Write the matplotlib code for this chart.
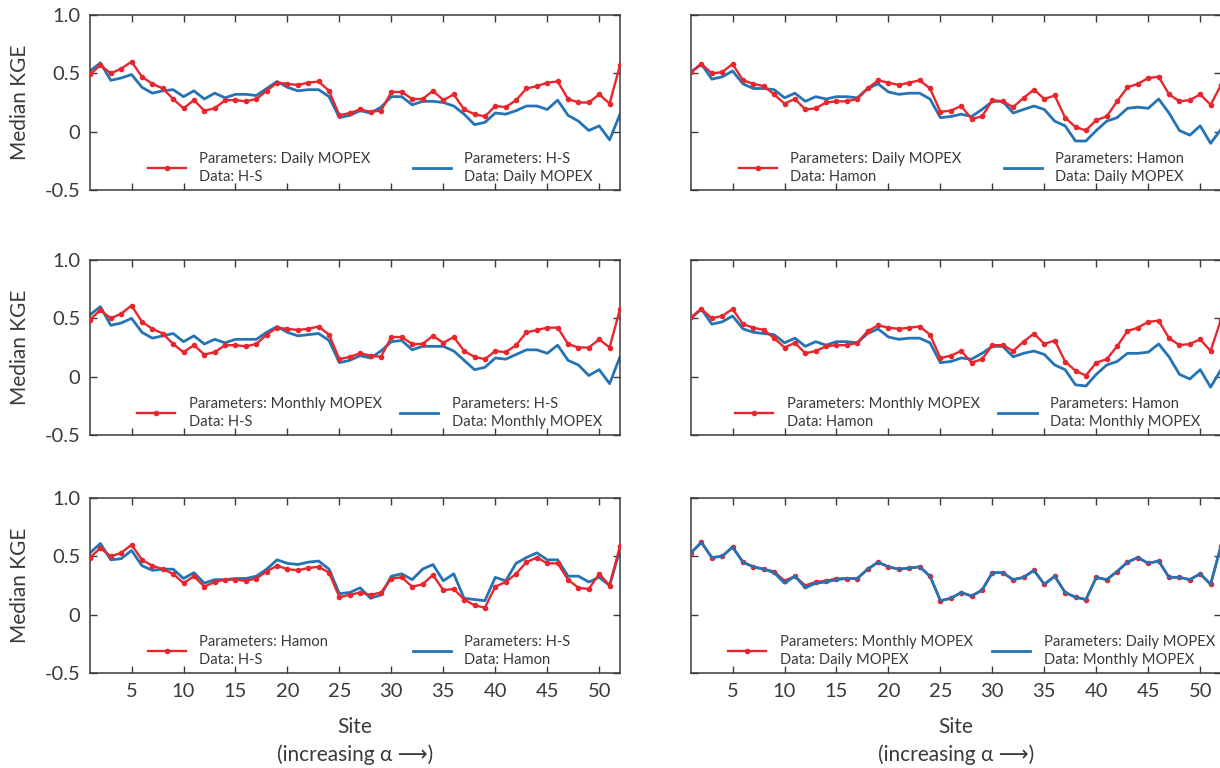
import numpy as np
import matplotlib
matplotlib.use("Agg")
import matplotlib.pyplot as plt
from matplotlib.lines import Line2D
from matplotlib.legend import Legend

plt.rcParams['font.family'] = ['Lato', 'DejaVu Sans']

sites = np.arange(1, 53)
xticks = [5, 10, 15, 20, 25, 30, 35, 40, 45, 50]
yticks = [-0.5, 0, 0.5, 1.0]
yticklabels = ['-0.5', '0', '0.5', '1.0']

# top left: params Daily MOPEX / data H-S  vs  params H-S / data Daily MOPEX
tl_red = [0.49, 0.57, 0.50, 0.54, 0.60, 0.47, 0.41, 0.37, 0.28, 0.20,
          0.27, 0.18, 0.20, 0.27, 0.27, 0.26, 0.28, 0.35, 0.42, 0.41,
          0.40, 0.42, 0.43, 0.35, 0.14, 0.16, 0.19, 0.17, 0.18, 0.34,
          0.34, 0.28, 0.28, 0.35, 0.27, 0.32, 0.19, 0.15, 0.13, 0.22,
          0.21, 0.27, 0.37, 0.39, 0.42, 0.43, 0.28, 0.25, 0.25, 0.32,
          0.24, 0.57]
tl_blue = [0.52, 0.59, 0.44, 0.46, 0.49, 0.38, 0.33, 0.35, 0.36, 0.30,
           0.35, 0.28, 0.33, 0.29, 0.32, 0.32, 0.31, 0.37, 0.43, 0.38,
           0.35, 0.36, 0.36, 0.30, 0.12, 0.14, 0.18, 0.16, 0.21, 0.30,
           0.30, 0.23, 0.26, 0.26, 0.25, 0.22, 0.15, 0.06, 0.08, 0.16,
           0.15, 0.18, 0.22, 0.22, 0.19, 0.27, 0.14, 0.09, 0.01, 0.05,
           -0.07, 0.15]

# top right: params Daily MOPEX / data Hamon  vs  params Hamon / data Daily MOPEX
tr_red = [0.51, 0.58, 0.50, 0.51, 0.58, 0.44, 0.41, 0.39, 0.32, 0.24,
          0.28, 0.19, 0.20, 0.25, 0.26, 0.26, 0.28, 0.37, 0.44, 0.42,
          0.40, 0.42, 0.44, 0.37, 0.17, 0.18, 0.22, 0.11, 0.13, 0.27,
          0.26, 0.21, 0.29, 0.36, 0.28, 0.31, 0.12, 0.04, 0.01, 0.10,
          0.13, 0.26, 0.38, 0.41, 0.46, 0.47, 0.32, 0.26, 0.27, 0.32,
          0.23, 0.40]
tr_blue = [0.51, 0.58, 0.45, 0.47, 0.52, 0.41, 0.37, 0.37, 0.36, 0.29,
           0.33, 0.26, 0.30, 0.28, 0.30, 0.30, 0.29, 0.37, 0.41, 0.34,
           0.32, 0.33, 0.33, 0.28, 0.12, 0.13, 0.15, 0.13, 0.19, 0.26,
           0.26, 0.16, 0.19, 0.22, 0.19, 0.09, 0.05, -0.08, -0.08, 0.01,
           0.09, 0.12, 0.20, 0.21, 0.20, 0.28, 0.16, 0.01, -0.03, 0.05,
           -0.10, 0.02]

# middle left: params Monthly MOPEX / data H-S  vs  params H-S / data Monthly MOPEX
ml_red = [0.49, 0.57, 0.50, 0.54, 0.61, 0.47, 0.41, 0.37, 0.28, 0.21,
          0.27, 0.19, 0.21, 0.27, 0.27, 0.26, 0.28, 0.36, 0.42, 0.41,
          0.40, 0.41, 0.43, 0.36, 0.15, 0.17, 0.20, 0.18, 0.17, 0.34,
          0.34, 0.28, 0.28, 0.35, 0.29, 0.34, 0.22, 0.17, 0.15, 0.22,
          0.21, 0.27, 0.38, 0.40, 0.42, 0.42, 0.28, 0.25, 0.25, 0.32,
          0.25, 0.58]
ml_blue = [0.53, 0.60, 0.44, 0.46, 0.50, 0.38, 0.33, 0.35, 0.37, 0.30,
           0.35, 0.28, 0.32, 0.29, 0.32, 0.32, 0.32, 0.38, 0.43, 0.38,
           0.35, 0.36, 0.37, 0.31, 0.12, 0.14, 0.18, 0.16, 0.22, 0.30,
           0.31, 0.23, 0.26, 0.26, 0.26, 0.22, 0.14, 0.06, 0.08, 0.16,
           0.15, 0.19, 0.23, 0.23, 0.20, 0.27, 0.14, 0.10, 0.01, 0.06,
           -0.06, 0.17]

# middle right: params Monthly MOPEX / data Hamon  vs  params Hamon / data Monthly MOPEX
mr_red = [0.51, 0.58, 0.50, 0.52, 0.58, 0.45, 0.42, 0.40, 0.33, 0.25,
          0.29, 0.20, 0.22, 0.26, 0.27, 0.27, 0.29, 0.39, 0.44, 0.42,
          0.41, 0.42, 0.43, 0.36, 0.16, 0.18, 0.22, 0.12, 0.15, 0.27,
          0.27, 0.22, 0.30, 0.37, 0.28, 0.31, 0.13, 0.05, 0.01, 0.12,
          0.15, 0.26, 0.39, 0.42, 0.47, 0.48, 0.33, 0.27, 0.28, 0.32,
          0.22, 0.49]
mr_blue = [0.50, 0.58, 0.45, 0.47, 0.52, 0.41, 0.38, 0.37, 0.36, 0.29,
           0.33, 0.26, 0.30, 0.27, 0.30, 0.30, 0.29, 0.37, 0.41, 0.34,
           0.32, 0.33, 0.33, 0.29, 0.12, 0.13, 0.16, 0.15, 0.20, 0.26,
           0.26, 0.17, 0.20, 0.22, 0.19, 0.10, 0.06, -0.07, -0.08, 0.02,
           0.10, 0.13, 0.20, 0.20, 0.21, 0.28, 0.17, 0.02, -0.02, 0.06,
           -0.09, 0.06]

# bottom left: params Hamon / data H-S  vs  params H-S / data Hamon
bl_red = [0.49, 0.57, 0.50, 0.53, 0.60, 0.47, 0.42, 0.39, 0.35, 0.27,
          0.33, 0.24, 0.28, 0.30, 0.30, 0.29, 0.31, 0.37, 0.42, 0.39,
          0.38, 0.40, 0.41, 0.36, 0.15, 0.17, 0.19, 0.17, 0.19, 0.31,
          0.32, 0.24, 0.26, 0.34, 0.21, 0.22, 0.13, 0.08, 0.06, 0.24,
          0.28, 0.35, 0.45, 0.49, 0.44, 0.44, 0.30, 0.23, 0.22, 0.35,
          0.25, 0.59]
bl_blue = [0.53, 0.61, 0.47, 0.48, 0.55, 0.42, 0.38, 0.39, 0.39, 0.31,
           0.36, 0.27, 0.30, 0.30, 0.31, 0.31, 0.33, 0.39, 0.47, 0.44,
           0.43, 0.45, 0.46, 0.39, 0.18, 0.19, 0.23, 0.14, 0.17, 0.33,
           0.35, 0.30, 0.39, 0.43, 0.29, 0.35, 0.14, 0.13, 0.12, 0.32,
           0.29, 0.44, 0.49, 0.53, 0.47, 0.47, 0.33, 0.33, 0.28, 0.32,
           0.25, 0.56]

# bottom right: params Monthly MOPEX / data Daily MOPEX  vs  the reverse
br_red = [0.53, 0.62, 0.49, 0.50, 0.58, 0.45, 0.41, 0.39, 0.37, 0.29,
          0.33, 0.25, 0.28, 0.29, 0.31, 0.31, 0.31, 0.39, 0.45, 0.41,
          0.39, 0.40, 0.41, 0.33, 0.12, 0.14, 0.19, 0.16, 0.21, 0.36,
          0.36, 0.30, 0.32, 0.38, 0.26, 0.33, 0.19, 0.15, 0.13, 0.32,
          0.30, 0.37, 0.45, 0.49, 0.44, 0.46, 0.32, 0.32, 0.30, 0.35,
          0.26, 0.59]
br_blue = [0.53, 0.62, 0.49, 0.50, 0.58, 0.45, 0.41, 0.39, 0.36, 0.27,
           0.33, 0.23, 0.27, 0.28, 0.30, 0.31, 0.31, 0.39, 0.45, 0.41,
           0.39, 0.40, 0.41, 0.33, 0.12, 0.14, 0.19, 0.16, 0.21, 0.36,
           0.36, 0.30, 0.32, 0.38, 0.26, 0.33, 0.19, 0.15, 0.13, 0.32,
           0.30, 0.37, 0.45, 0.49, 0.44, 0.46, 0.32, 0.32, 0.30, 0.35,
           0.26, 0.59]

RED = '#e8262d'
BLUE = '#2473b5'
GREY = '#3a3a3a'

W, H = 1220, 768
fig = plt.figure(figsize=(W / 100, H / 100), dpi=100)


def px_axes(x0, y_top, w, h):
    return fig.add_axes([x0 / W, 1 - (y_top + h) / H, w / W, h / H])


def draw_panel(ax, red, blue, red_lab, blue_lab, leg_x, left=True, bottom=False,
               blue_on_top=False):
    ax.plot(sites, blue, color=BLUE, lw=2.0, zorder=4 if blue_on_top else 2)
    ax.plot(sites, red, color=RED, lw=1.7, marker='o', ms=3.0, zorder=3)
    ax.set_xlim(1, 52)
    ax.set_ylim(-0.5, 1.0)
    ax.set_xticks(xticks)
    ax.set_yticks(yticks)
    ax.tick_params(direction='in', length=5, width=1.0, top=True, right=True,
                   colors=GREY, labelsize=14.5, pad=7)
    ax.set_yticklabels(yticklabels if left else [])
    if not bottom:
        ax.set_xticklabels([])
    for s in ax.spines.values():
        s.set_color(GREY)
        s.set_linewidth(1.1)

    # two separate legend entries, placed like the figure
    h_red = Line2D([], [], color=RED, lw=1.7, marker='o', ms=3.0)
    h_blue = Line2D([], [], color=BLUE, lw=2.0)
    for handle, lab, lx in [(h_red, red_lab, leg_x[0]), (h_blue, blue_lab, leg_x[1])]:
        leg = Legend(ax, [handle], [lab], loc='center left', bbox_to_anchor=(lx, 0.125),
                     frameon=False, borderpad=0, borderaxespad=0,
                     handlelength=2.6, handletextpad=0.9, fontsize=10.6)
        for t in leg.get_texts():
            t.set_color(GREY)
            t.set_linespacing(1.4)
        ax.add_artist(leg)


LX, RX, PW = 90, 691, 530
tops = [15, 260, 498]
PH = 175

ax = px_axes(LX, tops[0], PW, PH)
draw_panel(ax, tl_red, tl_blue, 'Parameters: Daily MOPEX\nData: H-S',
           'Parameters: H-S\nData: Daily MOPEX', (0.109, 0.609))
ax = px_axes(RX, tops[0], PW, PH)
draw_panel(ax, tr_red, tr_blue, 'Parameters: Daily MOPEX\nData: Hamon',
           'Parameters: Hamon\nData: Daily MOPEX', (0.09, 0.59), left=False)

ax = px_axes(LX, tops[1], PW, PH)
draw_panel(ax, ml_red, ml_blue, 'Parameters: Monthly MOPEX\nData: H-S',
           'Parameters: H-S\nData: Monthly MOPEX', (0.089, 0.585))
ax = px_axes(RX, tops[1], PW, PH)
draw_panel(ax, mr_red, mr_blue, 'Parameters: Monthly MOPEX\nData: Hamon',
           'Parameters: Hamon\nData: Monthly MOPEX', (0.083, 0.58), left=False)

ax = px_axes(LX, tops[2], PW, PH)
draw_panel(ax, bl_red, bl_blue, 'Parameters: Hamon\nData: H-S',
           'Parameters: H-S\nData: Hamon', (0.109, 0.609), bottom=True)
ax = px_axes(RX, tops[2], PW, PH)
draw_panel(ax, br_red, br_blue, 'Parameters: Monthly MOPEX\nData: Daily MOPEX',
           'Parameters: Daily MOPEX\nData: Monthly MOPEX', (0.07, 0.568),
           left=False, bottom=True, blue_on_top=True)

for t in tops:
    fig.text(20 / W, 1 - (t + PH / 2) / H, 'Median KGE', rotation=90,
             ha='center', va='center', fontsize=15, color=GREY)

for cx in [LX + PW / 2, RX + PW / 2]:
    fig.text(cx / W, 1 - 727 / H, 'Site', ha='center', va='center',
             fontsize=15, color=GREY)
    fig.text(cx / W, 1 - 755 / H, '(increasing \u03b1 \u27f6)',
             ha='center', va='center', fontsize=15, color=GREY)

fig.savefig('out.png', dpi=100)
